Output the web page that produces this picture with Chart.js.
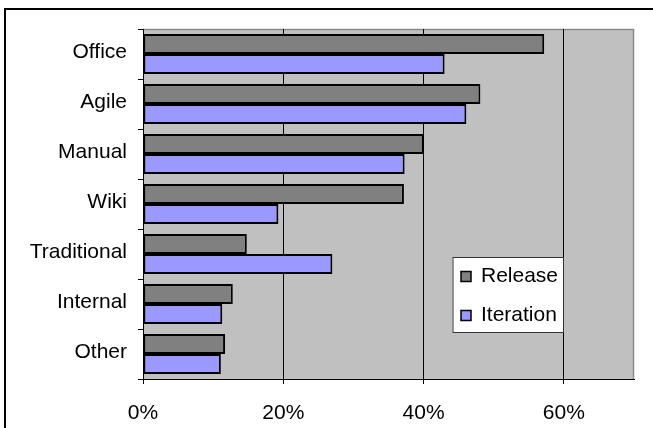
<!DOCTYPE html>
<html>
<head>
<meta charset="utf-8">
<script src="https://cdn.jsdelivr.net/npm/chart.js@4/dist/chart.umd.min.js"></script>
<style>
  html, body { margin: 0; padding: 0; background: #ffffff; }
  canvas { display: block; }
</style>
</head>
<body>
<canvas id="chart" width="653" height="428"></canvas>
<script>
// Share of teams using each tracking approach, per planning level (%)
const categories = ['Office', 'Agile', 'Manual', 'Wiki', 'Traditional', 'Internal', 'Other'];
const releaseShare = [57.2, 48.1, 40.0, 37.2, 14.8, 12.8, 11.7];
const iterationShare = [43.0, 46.1, 37.3, 19.3, 27.0, 11.3, 11.1];
const seriesNames = ['Release', 'Iteration'];
const percentTicks = [0, 20, 40, 60];

const FONT = { family: '"Liberation Sans", Arial, sans-serif', size: 21 };

// Grey plot background, frame and an in-plot legend box
const framePlugin = {
  id: 'frame',
  beforeDraw(chart) {
    const { ctx, chartArea: a } = chart;
    ctx.save();
    ctx.fillStyle = '#ffffff';
    ctx.fillRect(0, 0, chart.width, chart.height);
    // outer chart border
    ctx.strokeStyle = '#000000';
    ctx.lineWidth = 2;
    ctx.beginPath();
    ctx.moveTo(5, chart.height + 2);
    ctx.lineTo(5, 9);
    ctx.lineTo(chart.width + 2, 9);
    ctx.stroke();
    // plot area
    ctx.fillStyle = '#c0c0c0';
    ctx.fillRect(a.left, a.top, a.right - a.left, a.bottom - a.top);
    ctx.strokeStyle = '#8a8a8a';
    ctx.lineWidth = 1.5;
    ctx.beginPath();
    ctx.moveTo(a.left, a.top + 0.5);
    ctx.lineTo(a.right - 0.5, a.top + 0.5);
    ctx.lineTo(a.right - 0.5, a.bottom);
    ctx.stroke();
    ctx.restore();
  },
  afterDraw(chart) {
    const { ctx } = chart;
    const box = { x: 452.5, y: 257, w: 111.5, h: 76 };
    ctx.save();
    ctx.fillStyle = '#ffffff';
    ctx.fillRect(box.x, box.y, box.w, box.h);
    ctx.strokeStyle = '#333333';
    ctx.lineWidth = 1;
    ctx.strokeRect(box.x + 0.5, box.y + 0.5, box.w - 1, box.h - 1);
    ctx.font = FONT.size + 'px ' + FONT.family;
    ctx.textBaseline = 'middle';
    ctx.textAlign = 'left';
    chart.data.datasets.forEach((ds, i) => {
      const cy = 276.5 + i * 39;
      ctx.fillStyle = ds.backgroundColor;
      ctx.fillRect(461, cy - 5, 10, 10);
      ctx.strokeStyle = '#000000';
      ctx.lineWidth = 1.5;
      ctx.strokeRect(461, cy - 5, 10, 10);
      ctx.fillStyle = '#000000';
      ctx.fillText(ds.label, 481, cy);
    });
    ctx.restore();
  }
};

new Chart(document.getElementById('chart'), {
  type: 'bar',
  data: {
    labels: categories,
    datasets: [
      {
        label: seriesNames[0],
        data: releaseShare,
        backgroundColor: '#808080',
        borderColor: '#000000',
        borderWidth: 2,
        borderSkipped: false,
        categoryPercentage: 0.8,
        barPercentage: 1.0
      },
      {
        label: seriesNames[1],
        data: iterationShare,
        backgroundColor: '#9999ff',
        borderColor: '#000000',
        borderWidth: 2,
        borderSkipped: false,
        categoryPercentage: 0.8,
        barPercentage: 1.0
      }
    ]
  },
  options: {
    indexAxis: 'y',
    responsive: false,
    devicePixelRatio: 1,
    animation: false,
    layout: { padding: { top: 29, right: 19, left: 0, bottom: 0 } },
    plugins: {
      legend: { display: false },
      tooltip: { enabled: false }
    },
    scales: {
      x: {
        min: 0,
        max: 70,
        afterBuildTicks(scale) {
          scale.ticks = percentTicks.map(v => ({ value: v }));
        },
        afterFit(scale) { scale.height = 49; },
        grid: {
          color: '#000000',
          lineWidth: 1,
          drawTicks: true,
          tickLength: 5,
          tickColor: '#000000'
        },
        border: { color: '#000000', width: 1 },
        ticks: {
          color: '#000000',
          font: FONT,
          padding: 17,
          maxRotation: 0,
          callback: v => v + '%'
        }
      },
      y: {
        afterFit(scale) { scale.width = 143; },
        grid: {
          drawOnChartArea: false,
          offset: true,
          tickLength: 5,
          color: '#000000'
        },
        border: { color: '#000000', width: 1 },
        ticks: {
          color: '#000000',
          font: FONT,
          padding: 11,
          labelOffset: -2
        }
      }
    }
  },
  plugins: [framePlugin]
});
</script>
</body>
</html>
